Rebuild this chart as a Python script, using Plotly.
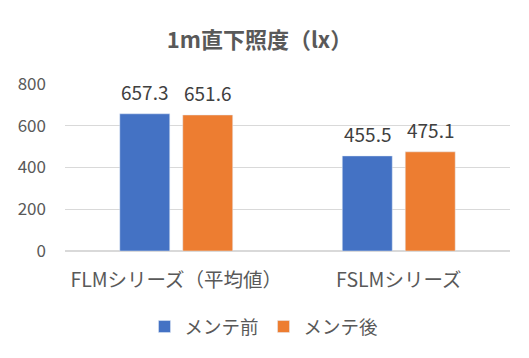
import plotly.graph_objects as go

categories = ["FLMシリーズ（平均値）", "FSLMシリーズ"]
before_vals = [657.3, 455.5]
after_vals = [651.6, 475.1]
series_names = ["メンテ前", "メンテ後"]
y_ticks = [0, 200, 400, 600, 800]

FONT = "Noto Sans CJK JP, Noto Sans, sans-serif"
GRAY = "#595959"
# page body has an 8px margin; compensate so the figure lands where intended
OFF = 8
W, H = 529 - OFF, 358 - OFF

fig = go.Figure()
series = [(series_names[0], before_vals, "#4472C4", -31.5),
          (series_names[1], after_vals, "#ED7D31", 31.5)]
for name, vals, color, shift in series:
    fig.add_trace(go.Bar(x=categories, y=vals, name=name, marker_color=color))
    for c, v in zip(categories, vals):
        fig.add_annotation(x=c, y=v, text=f"{v:.1f}", showarrow=False,
                           xshift=shift, yshift=22, yanchor="middle",
                           font=dict(size=19, color="#404040", family=FONT))

fig.update_layout(
    width=W, height=H,
    margin=dict(l=65 - OFF, r=19, t=84 - OFF, b=107, autoexpand=False),
    paper_bgcolor="white", plot_bgcolor="white",
    barmode="group", bargap=0.434, bargroupgap=0.206,
    title=dict(text="<b>1m直下照度（lx）</b>", x=(259.5 - OFF) / W, xanchor="center",
               y=1 - (40 - OFF) / H, yanchor="middle",
               font=dict(size=22, color=GRAY, family=FONT)),
    font=dict(family=FONT, color=GRAY),
    legend=dict(orientation="h", x=(264 - 65) / 445, xanchor="center",
                y=(251 - 327) / 167, yanchor="middle",
                font=dict(size=18.5, color=GRAY), traceorder="normal"),
    showlegend=True,
)
fig.update_yaxes(range=[0, 800], tickvals=y_ticks, showgrid=True,
                 gridcolor="#D9D9D9", gridwidth=1, zeroline=True,
                 zerolinecolor="#D9D9D9", tickfont=dict(size=17, color=GRAY),
                 ticks="", ticklen=0, showline=False, ticklabelstandoff=18)
fig.update_xaxes(tickfont=dict(size=19.5, color=GRAY), showline=False, ticks="",
                 ticklabelstandoff=15)

fig.write_html("out.html")
